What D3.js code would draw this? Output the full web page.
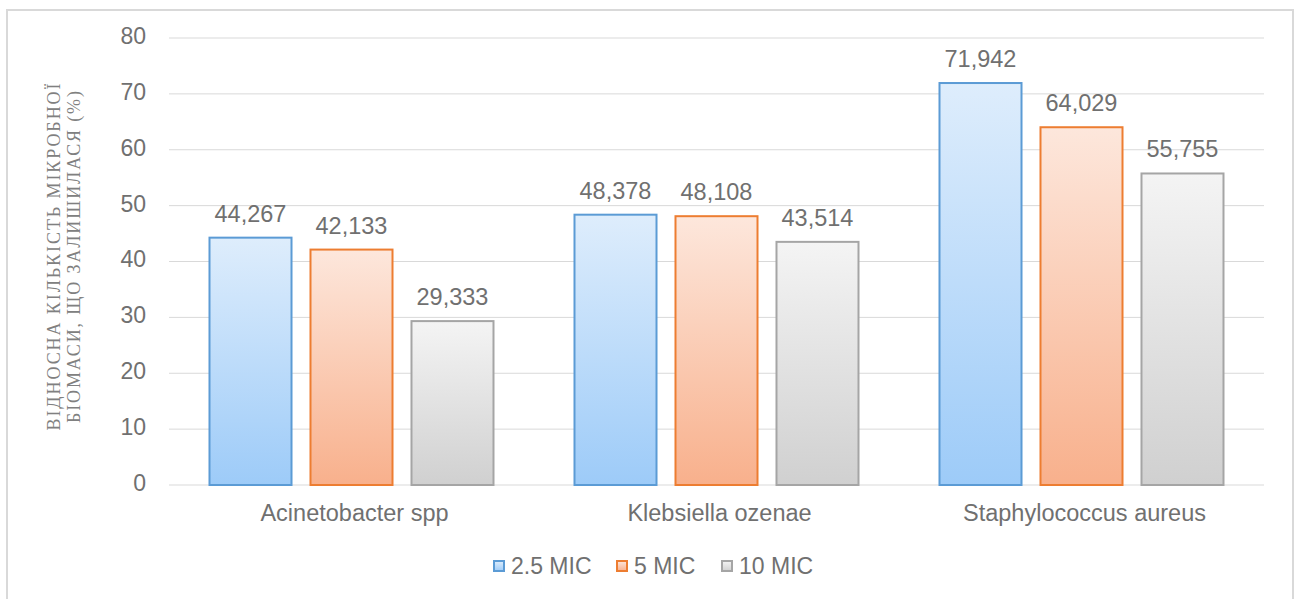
<!DOCTYPE html>
<html>
<head>
<meta charset="utf-8">
<script src="https://cdn.jsdelivr.net/npm/d3@7"></script>
<style>
  body { margin: 0; background: #fff; }
  svg { display: block; }
</style>
</head>
<body>
<svg id="chart" width="1298" height="599"></svg>
<script>
// Relative amount of microbial biomass remaining (%)
const categories = ["Acinetobacter spp", "Klebsiella ozenae", "Staphylococcus aureus"];
const seriesNames = ["2.5 MIC", "5 MIC", "10 MIC"];
const mic25 = [44.267, 48.378, 71.942];
const mic5 = [42.133, 48.108, 64.029];
const mic10 = [29.333, 43.514, 55.755];
const yTicks = [0, 10, 20, 30, 40, 50, 60, 70, 80];
const axisTitle = ["ВІДНОСНА КІЛЬКІСТЬ МІКРОБНОЇ", "БІОМАСИ, ЩО ЗАЛИШИЛАСЯ (%)"];

const seriesValues = [mic25, mic5, mic10];
const palette = [
  { stroke: "#5b9bd5", top: "#deedfc", bottom: "#9dcbf8" },
  { stroke: "#ed7d31", top: "#fde7dc", bottom: "#f8b08c" },
  { stroke: "#a5a5a5", top: "#f4f4f4", bottom: "#d0d0d0" }
];
const textColor = "#707070";
const sans = "Liberation Sans, Arial, sans-serif";

const svg = d3.select("#chart");
const defs = svg.append("defs");
palette.forEach((p, i) => {
  const g = defs.append("linearGradient")
    .attr("id", "grad" + i).attr("x1", 0).attr("y1", 0).attr("x2", 0).attr("y2", 1);
  g.append("stop").attr("offset", "0%").attr("stop-color", p.top);
  g.append("stop").attr("offset", "100%").attr("stop-color", p.bottom);
});

// frame
svg.append("rect")
  .attr("x", 7).attr("y", 10).attr("width", 1286).attr("height", 600)
  .attr("fill", "#fff").attr("stroke", "#d9d9d9").attr("stroke-width", 2);

const plot = { left: 169, right: 1264, top: 38, bottom: 485 };

const y = d3.scaleLinear().domain([0, 80]).range([plot.bottom, plot.top]);
const x0 = d3.scaleBand().domain(categories).range([plot.left, plot.right]).padding(0);
const x1 = d3.scaleBand().domain(seriesNames).range([0, x0.bandwidth()])
  .paddingInner(0.188).paddingOuter(0.401);

// gridlines
svg.append("g")
  .selectAll("line").data(yTicks).join("line")
  .attr("x1", plot.left).attr("x2", plot.right)
  .attr("y1", d => y(d)).attr("y2", d => y(d))
  .attr("stroke", "#d9d9d9").attr("stroke-width", 1);

// y axis labels
const yAxis = svg.append("g")
  .attr("transform", "translate(146,-2)")
  .call(d3.axisLeft(y).tickValues(yTicks).tickSize(0).tickPadding(0));
yAxis.select(".domain").remove();
yAxis.selectAll("text")
  .attr("fill", textColor).style("font-family", sans)
  .style("font-size", "23px");

// x axis labels
const xAxis = svg.append("g")
  .attr("transform", `translate(3,${plot.bottom})`)
  .call(d3.axisBottom(x0).tickSize(0).tickPadding(0));
xAxis.select(".domain").remove();
xAxis.selectAll("text")
  .attr("y", 36).attr("dy", null)
  .attr("fill", textColor).style("font-family", sans)
  .style("font-size", "23.5px");

// bars
const groups = svg.append("g").selectAll("g").data(categories).join("g")
  .attr("transform", d => `translate(${x0(d)},0)`);

groups.each(function(cat, ci) {
  const g = d3.select(this);
  seriesNames.forEach((s, si) => {
    const v = seriesValues[si][ci];
    g.append("rect")
      .attr("x", x1(s)).attr("width", x1.bandwidth())
      .attr("y", y(v)).attr("height", y(0) - y(v))
      .attr("fill", `url(#grad${si})`)
      .attr("stroke", palette[si].stroke).attr("stroke-width", 2);
    g.append("text")
      .attr("x", x1(s) + x1.bandwidth() / 2).attr("y", y(v) - 16)
      .attr("text-anchor", "middle")
      .attr("fill", textColor)
      .style("font-family", sans)
      .style("font-size", "23.5px")
      .text(d3.format(".3f")(v).replace(".", ","));
  });
});

// axis title (two rotated lines)
const titleLen = [347, 332];
const titleX = [60, 80];
svg.append("g").selectAll("text").data(axisTitle).join("text")
  .attr("transform", (d, i) => `translate(${titleX[i]},257) rotate(-90)`)
  .attr("text-anchor", "middle")
  .attr("textLength", (d, i) => titleLen[i])
  .attr("lengthAdjust", "spacing")
  .attr("fill", "#808080")
  .style("font-family", "Liberation Serif, Times New Roman, serif")
  .style("font-size", "18px")
  .text(d => d);

// legend
const legendX = [493, 616, 721];
const legend = svg.append("g").selectAll("g").data(seriesNames).join("g")
  .attr("transform", (d, i) => `translate(${legendX[i]},566)`);
legend.append("rect")
  .attr("x", 1).attr("y", -5).attr("width", 10).attr("height", 10)
  .attr("fill", (d, i) => `url(#grad${i})`)
  .attr("stroke", (d, i) => palette[i].stroke).attr("stroke-width", 2);
legend.append("text")
  .attr("x", 18).attr("y", 0).attr("dy", "0.36em")
  .attr("fill", textColor)
  .style("font-family", sans)
  .style("font-size", "23px")
  .text(d => d);
</script>
</body>
</html>
